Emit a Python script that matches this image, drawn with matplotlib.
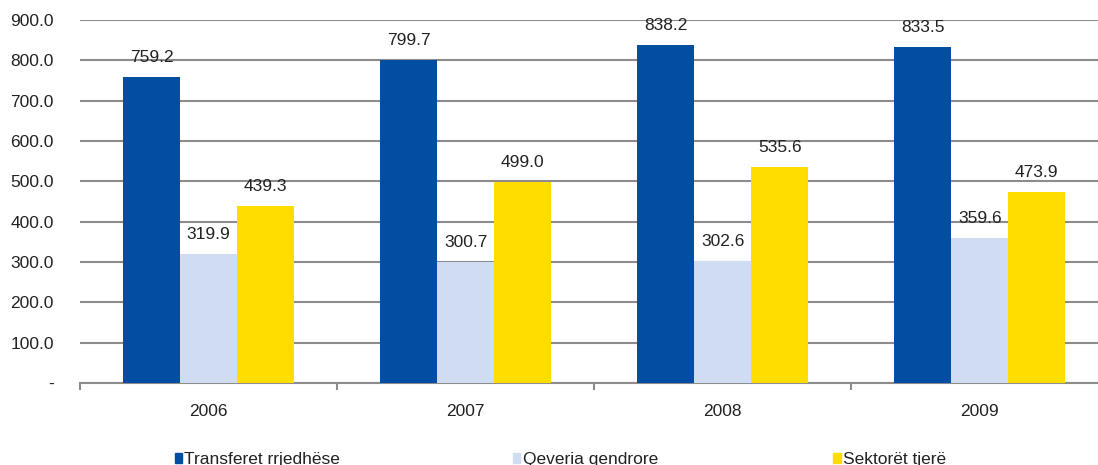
import numpy as np
import matplotlib.pyplot as plt
from matplotlib.patches import Rectangle

plt.rcParams['font.family'] = ['Liberation Sans', 'DejaVu Sans']

years = ["2006", "2007", "2008", "2009"]
series_names = ["Transferet rrjedhëse", "Qeveria qendrore", "Sektorët tjerë"]
transferet = [759.2, 799.7, 838.2, 833.5]
qeveria = [319.9, 300.7, 302.6, 359.6]
sektoret = [439.3, 499.0, 535.6, 473.9]
colors = ["#034ea2", "#d0dcf2", "#ffdd00"]

fs = 12.5
txt_col = "#222222"

fig = plt.figure(figsize=(10.98, 4.65), dpi=100)
ax = fig.add_axes([0.0729, 0.1763, 0.9271, 0.7807])

x = np.arange(len(years))
width = 0.222
for i, (vals, col) in enumerate(zip([transferet, qeveria, sektoret], colors)):
    pos = x + (i - 1) * width
    ax.bar(pos, vals, width, color=col, zorder=3)
    for px, v in zip(pos, vals):
        ax.text(px, v + 30, f"{v:.1f}", ha="center", va="bottom",
                fontsize=fs, color=txt_col, zorder=4)

ax.set_ylim(0, 900)
ax.set_xlim(-0.5, 3.46)
yt = np.arange(0, 901, 100)
ax.set_yticks(yt)
ax.set_yticklabels(["-"] + [f"{v:.1f}" for v in yt[1:]])
ax.yaxis.grid(True, color="#8c8c8c", linewidth=1.5, zorder=0)
ax.tick_params(axis="y", length=0, pad=19, labelsize=fs, labelcolor=txt_col)

# category boundaries as ticks, year names as minor labels
ax.set_xticks(np.arange(-0.5, 3.5, 1.0))
ax.set_xticklabels([])
ax.set_xticks(x, minor=True)
ax.set_xticklabels(years, minor=True)
ax.tick_params(axis="x", which="major", length=5, width=1.5, color="#8c8c8c", direction="out")
ax.tick_params(axis="x", which="minor", length=0, pad=15, labelsize=fs, labelcolor=txt_col)

for s in ["top", "right", "left"]:
    ax.spines[s].set_visible(False)
ax.spines["bottom"].set_color("#8c8c8c")
ax.spines["bottom"].set_linewidth(1.5)

# legend along the bottom edge
leg_x = [0.159, 0.467, 0.759]
for lx, name, col in zip(leg_x, series_names, colors):
    fig.patches.append(Rectangle((lx, 0.005), 0.0065, 0.021, transform=fig.transFigure,
                                 color=col, figure=fig))
    fig.text(lx + 0.009, 0.012, name, fontsize=fs, va="center", color=txt_col)

fig.savefig("out.png", dpi=100)
